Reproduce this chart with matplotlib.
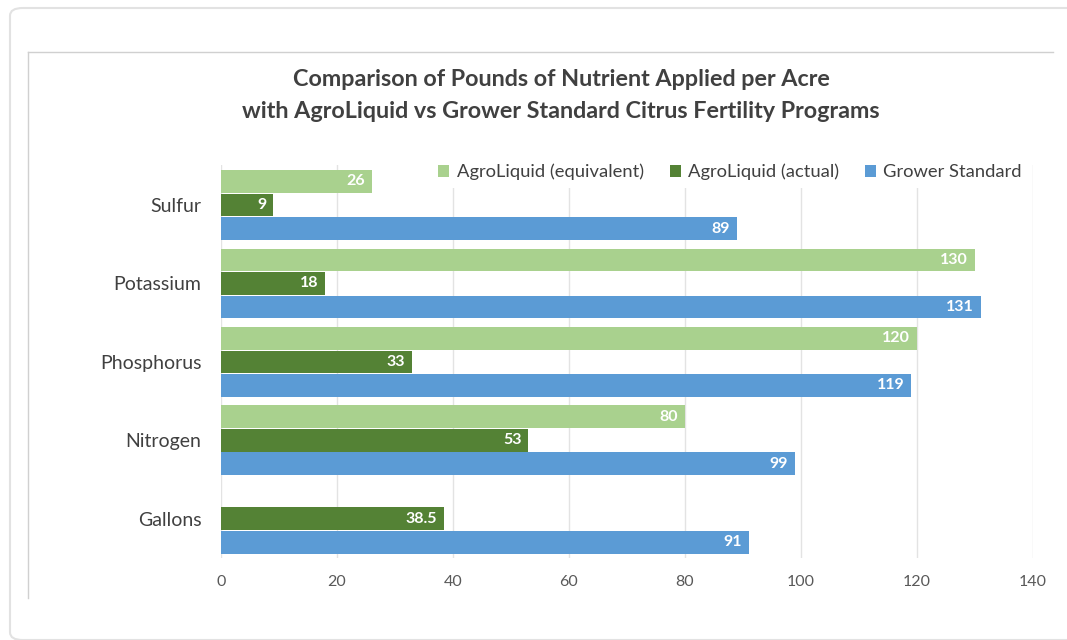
import numpy as np
import matplotlib
matplotlib.use('Agg')
import matplotlib.pyplot as plt
from matplotlib.patches import Patch, FancyBboxPatch
from matplotlib.lines import Line2D

plt.rcParams['font.family'] = ['Lato', 'DejaVu Sans']

categories = ['Sulfur', 'Potassium', 'Phosphorus', 'Nitrogen', 'Gallons']
equivalent = [26, 130, 120, 80, None]
actual = [9, 18, 33, 53, 38.5]
grower = [89, 131, 119, 99, 91]
xticks = [0, 20, 40, 60, 80, 100, 120, 140]

c_eq = '#a9d18e'
c_act = '#548235'
c_gs = '#5b9bd5'
txt = '#404040'

fig = plt.figure(figsize=(10.67, 6.4), dpi=100)

# page frames
fig.patches.append(FancyBboxPatch((10 / 1067, 0), 1.2, 1 - 8 / 640,
                                  boxstyle='round,pad=0,rounding_size=0.012',
                                  transform=fig.transFigure, facecolor='none',
                                  edgecolor='#e2e2e2', linewidth=1.5, zorder=-1))
fig.lines.append(Line2D([28 / 1067, 1053 / 1067], [1 - 52 / 640] * 2,
                        transform=fig.transFigure, color='#d0d0d0', lw=1))
fig.lines.append(Line2D([28 / 1067] * 2, [1 - 52 / 640, 1 - 598 / 640],
                        transform=fig.transFigure, color='#d0d0d0', lw=1))

ax = fig.add_axes([221 / 1067, 1 - 558 / 640, 812 / 1067, 393 / 640])
y = np.arange(len(categories))
h = 0.29
off = 0.3

eq_vals = [v if v is not None else 0 for v in equivalent]
ax.barh(y - off, eq_vals, height=h, color=c_eq, zorder=2)
ax.barh(y, actual, height=h, color=c_act, zorder=2)
ax.barh(y + off, grower, height=h, color=c_gs, zorder=2)

def fmt(v):
    return f'{v:g}'

for i in range(len(categories)):
    if equivalent[i] is not None:
        ax.text(equivalent[i] - 1.2, y[i] - off, fmt(equivalent[i]), ha='right',
                va='center', color='white', fontsize=11.5, fontweight='bold', zorder=3)
    ax.text(actual[i] - 1.2, y[i], fmt(actual[i]), ha='right', va='center',
            color='white', fontsize=11.5, fontweight='bold', zorder=3)
    ax.text(grower[i] - 1.2, y[i] + off, fmt(grower[i]), ha='right', va='center',
            color='white', fontsize=11.5, fontweight='bold', zorder=3)

ax.set_xlim(0, 140)
ax.set_ylim(4.5, -0.51)
ax.set_xticks(xticks)
ax.set_xticklabels([str(t) for t in xticks], color='#595959', fontsize=11.5)
ax.set_yticks(y)
ax.set_yticklabels(categories, color=txt, fontsize=14)
ax.tick_params(length=0)
ax.tick_params(axis='x', pad=12)
ax.tick_params(axis='y', pad=14)
ax.grid(axis='x', color='#e3e3e3', linewidth=1, zorder=0)
ax.set_axisbelow(True)
for s in ax.spines.values():
    s.set_visible(False)

fig.text(561 / 1067, 1 - 80 / 640, 'Comparison of Pounds of Nutrient Applied per Acre',
         ha='center', va='center', fontsize=16.8, fontweight='bold', color=txt)
fig.text(561 / 1067, 1 - 112 / 640, 'with AgroLiquid vs Grower Standard Citrus Fertility Programs',
         ha='center', va='center', fontsize=16.8, fontweight='bold', color=txt)

handles = [Patch(facecolor=c_eq, label='AgroLiquid (equivalent)'),
           Patch(facecolor=c_act, label='AgroLiquid (actual)'),
           Patch(facecolor=c_gs, label='Grower Standard')]
leg = fig.legend(handles=handles, ncol=3, loc='center',
                 bbox_to_anchor=(730 / 1067, 1 - 172 / 640), frameon=True,
                 facecolor='white', edgecolor='none', framealpha=1,
                 fontsize=13.2, handlelength=0.6, handleheight=0.6,
                 handletextpad=0.4, columnspacing=1.4, borderpad=0.4)
for t in leg.get_texts():
    t.set_color(txt)

fig.savefig('out.png', dpi=100)
